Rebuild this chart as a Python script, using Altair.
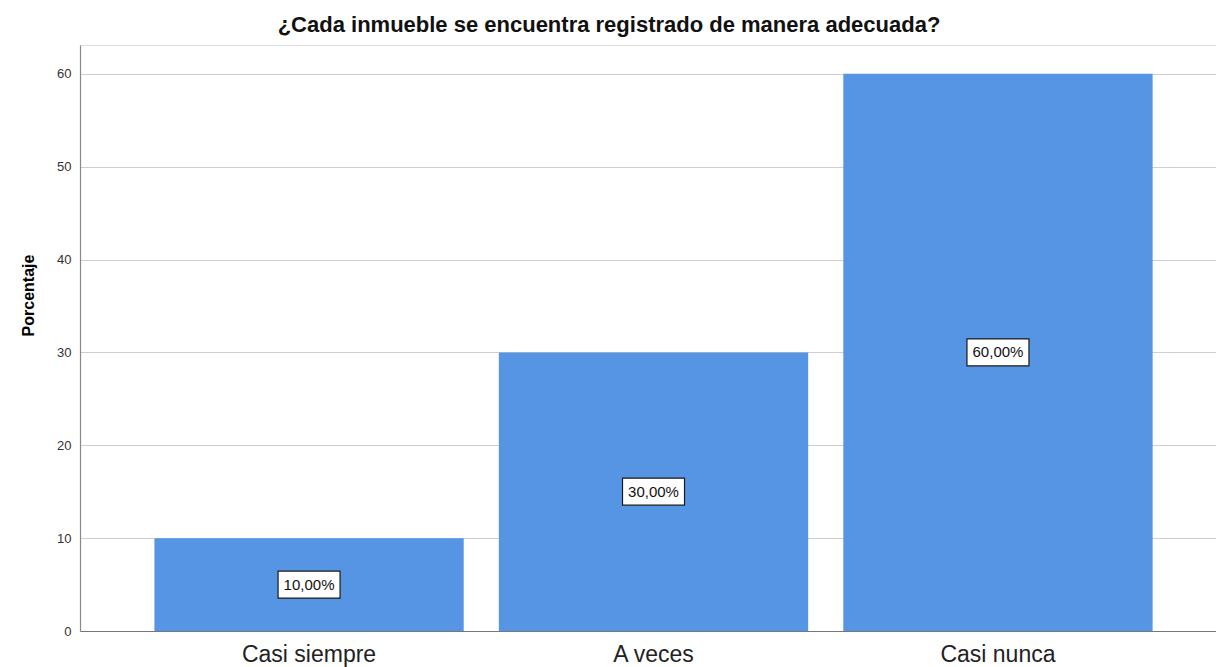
import altair as alt
import pandas as pd

categories = ["Casi siempre", "A veces", "Casi nunca"]
values = [10, 30, 60]
label_texts = ["10,00%", "30,00%", "60,00%"]

df = pd.DataFrame({"cat": categories, "val": values, "lab": label_texts})
df["mid"] = df["val"] / 2

FONT = "Liberation Sans, Arial, Helvetica, sans-serif"
BLUE = "#5595E4"

x_enc = alt.X("cat:N", sort=categories,
              scale=alt.Scale(paddingInner=0.102, paddingOuter=0.2, align=0.54),
              axis=alt.Axis(title=None, labelAngle=0, labelFontSize=23, labelColor="#222222",
                            labelFont=FONT, labelPadding=12, ticks=False,
                            domainColor="#777777", domainWidth=1.2))

y_scale = alt.Scale(domain=[0, 63.1], nice=False, zero=True)

bars = alt.Chart(df).mark_bar(color=BLUE).encode(
    x=x_enc,
    y=alt.Y("val:Q", scale=y_scale,
            axis=alt.Axis(title="Porcentaje", values=[0, 10, 20, 30, 40, 50, 60],
                          titleFont=FONT, titleFontSize=16, titleFontWeight="bold",
                          titleColor="#000000", titleAngle=-90, titleX=-52, titleY=250,
                          titleAlign="center", titleBaseline="middle",
                          labelFont=FONT, labelFontSize=13, labelColor="#333333",
                          labelPadding=9, ticks=False, grid=True, gridColor="#CFCFCF",
                          gridWidth=1.2, domainColor="#888888", domainWidth=1.2)),
)

box_path = "M-2.296,-1H2.296V1H-2.296Z"
boxes = alt.Chart(df).mark_point(shape=box_path, size=729, filled=True, fill="white",
                                 stroke="#1a1a1a", strokeWidth=1.2, opacity=1).encode(
    x=alt.X("cat:N", sort=categories),
    y=alt.Y("mid:Q", scale=y_scale),
)

texts = alt.Chart(df).mark_text(font=FONT, fontSize=15, color="#111111").encode(
    x=alt.X("cat:N", sort=categories),
    y=alt.Y("mid:Q", scale=y_scale),
    text="lab:N",
)

chart = alt.layer(bars, boxes, texts).properties(
    width=1136, height=586,
    title=alt.TitleParams("¿Cada inmueble se encuentra registrado de manera adecuada?",
                          font=FONT, fontSize=22, fontWeight="bold", color="#111111",
                          anchor="middle", dx=-39, offset=8),
    autosize=alt.AutoSizeParams(type="none"),
    padding={"left": 80, "top": 45, "right": 0, "bottom": 36},
).configure_view(stroke=None).configure(background="white")

chart.save("out.html", embed_options={"renderer": "svg", "actions": False})
